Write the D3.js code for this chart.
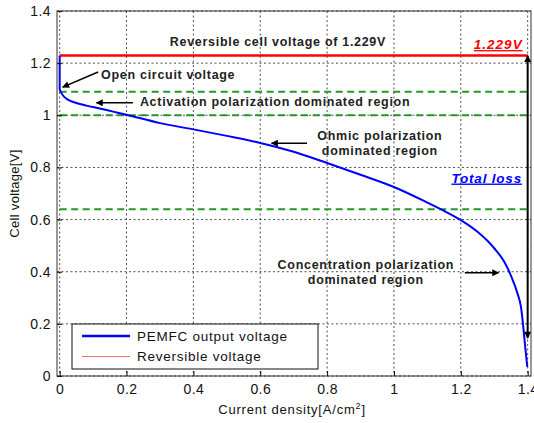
<!DOCTYPE html>
<html>
<head>
<meta charset="utf-8">
<script src="https://cdn.jsdelivr.net/npm/d3@7"></script>
<style>
  body { margin: 0; background: #fff; }
  text { font-family: "Liberation Sans", Arial, sans-serif; }
</style>
</head>
<body>
<div class="viz1"></div>
<script>
// polarization curve
var current = [0, 0, 0.005, 0.01, 0.02, 0.03, 0.05, 0.08, 0.12, 0.16, 0.2, 0.3, 0.4, 0.5, 0.6, 0.7, 0.8, 0.9, 1.0, 1.1, 1.15, 1.2, 1.25, 1.3, 1.33, 1.35, 1.37, 1.38, 1.386, 1.392, 1.396, 1.399];
var voltage = [1.229, 1.10, 1.086, 1.076, 1.064, 1.056, 1.047, 1.037, 1.026, 1.014, 1.002, 0.970, 0.946, 0.921, 0.894, 0.860, 0.817, 0.772, 0.725, 0.665, 0.633, 0.598, 0.553, 0.49, 0.438, 0.385, 0.315, 0.265, 0.2, 0.12, 0.07, 0.035];

var reversibleV = 1.229;
var regionBounds = [1.09, 1.0, 0.64];

var xTicks = [0, 0.2, 0.4, 0.6, 0.8, 1, 1.2, 1.4];
var yTicks = [0, 0.2, 0.4, 0.6, 0.8, 1, 1.2, 1.4];
var legendLabels = ["PEMFC output voltage", "Reversible voltage"];

var w = 534;
var h = 423;
var padL = 57, padR = 531, padT = 11, padB = 376;

var xScale = d3.scaleLinear()
            .domain([-0.008, 1.41])
            .range([padL, padR]);

var yScale = d3.scaleLinear()
            .domain([0, 1.4])
            .range([padB, padT]);

var svg = d3.select(".viz1")
        .append("svg")
        .attr("width", w)
        .attr("height", h);

var defs = svg.append("defs");
defs.append("marker")
    .attr("id", "head")
    .attr("viewBox", "0 0 10 10")
    .attr("refX", 9)
    .attr("refY", 5)
    .attr("markerWidth", 8)
    .attr("markerHeight", 7)
    .attr("markerUnits", "userSpaceOnUse")
    .attr("orient", "auto-start-reverse")
    .append("path")
    .attr("d", "M0,0 L10,5 L0,10 Z")
    .attr("fill", "#000");

//grid
svg.append("g")
    .selectAll("line")
    .data(xTicks)
    .enter()
    .append("line")
    .attr("x1", function(d) { return xScale(d); })
    .attr("x2", function(d) { return xScale(d); })
    .attr("y1", padT)
    .attr("y2", padB)
    .attr("stroke", "#222")
    .attr("stroke-width", 0.8)
    .attr("stroke-dasharray", "2,2.5");

svg.append("g")
    .selectAll("line")
    .data(yTicks)
    .enter()
    .append("line")
    .attr("x1", padL)
    .attr("x2", padR)
    .attr("y1", function(d) { return yScale(d); })
    .attr("y2", function(d) { return yScale(d); })
    .attr("stroke", "#222")
    .attr("stroke-width", 0.8)
    .attr("stroke-dasharray", "2,2.5");

// region boundaries
svg.append("g")
    .selectAll("line")
    .data(regionBounds)
    .enter()
    .append("line")
    .attr("x1", xScale(0))
    .attr("x2", xScale(1.4))
    .attr("y1", function(d) { return yScale(d); })
    .attr("y2", function(d) { return yScale(d); })
    .attr("stroke", "#229a22")
    .attr("stroke-width", 2)
    .attr("stroke-dasharray", "7,4.5");

// reversible voltage
svg.append("line")
    .attr("x1", xScale(0))
    .attr("x2", xScale(1.4))
    .attr("y1", yScale(reversibleV))
    .attr("y2", yScale(reversibleV))
    .attr("stroke", "#ff0000")
    .attr("stroke-width", 2.5);

var line = d3.line()
    .x(function(d, i) { return xScale(current[i]); })
    .y(function(d) { return yScale(d); })
    .curve(d3.curveMonotoneX);

svg.append("path")
    .datum(voltage)
    .attr("d", line)
    .attr("fill", "none")
    .attr("stroke", "#0000ff")
    .attr("stroke-width", 2);

//axes
var xaxis = d3.axisBottom(xScale)
            .tickValues(xTicks)
            .tickSize(-5)
            .tickPadding(8)
            .tickFormat(function(d) { return String(d); });

var yaxis = d3.axisLeft(yScale)
            .tickValues(yTicks)
            .tickSize(-5)
            .tickPadding(6)
            .tickFormat(function(d) { return String(d); });

svg.append("g")
     .attr("class", "x axis")
     .attr("transform", "translate(0," + padB + ")")
     .call(xaxis);

svg.append("g")
     .attr("class", "y axis")
     .attr("transform", "translate(" + padL + ",0)")
     .call(yaxis);

svg.selectAll(".axis path").remove();
svg.selectAll(".axis line").attr("stroke", "#000");
svg.selectAll(".axis text")
    .attr("fill", "#111")
    .style("font-size", "14px")
    .style("letter-spacing", "0.4px");

svg.append("rect")
    .attr("x", padL)
    .attr("y", padT)
    .attr("width", padR - padL)
    .attr("height", padB - padT)
    .attr("fill", "none")
    .attr("stroke", "#333")
    .attr("stroke-width", 1);

svg.append("text")
    .attr("x", 292)
    .attr("y", 414)
    .attr("text-anchor", "middle")
    .style("font-size", "13px")
    .style("letter-spacing", "0.8px")
    .attr("fill", "#111")
    .html("Current density[A/cm<tspan dy='-5' font-size='9'>2</tspan><tspan dy='5'>]</tspan>");

svg.append("text")
    .attr("transform", "translate(19," + ((padT + padB) / 2) + ") rotate(-90)")
    .attr("text-anchor", "middle")
    .style("font-size", "13px")
    .style("letter-spacing", "0.3px")
    .attr("fill", "#111")
    .text("Cell voltage[V]");

//annotations
function note(txt, x, y, anchor) {
    return svg.append("text")
        .attr("x", xScale(x))
        .attr("y", yScale(y))
        .attr("text-anchor", anchor || "start")
        .style("font-size", "12.5px")
        .style("font-weight", "bold")
        .style("letter-spacing", "0.7px")
        .attr("fill", "#222")
        .text(txt);
}

function arrow(x1, y1, x2, y2) {
    return svg.append("line")
        .attr("x1", xScale(x1))
        .attr("y1", yScale(y1))
        .attr("x2", xScale(x2))
        .attr("y2", yScale(y2))
        .attr("stroke", "#000")
        .attr("stroke-width", 1.6)
        .attr("marker-end", "url(#head)");
}

note("Reversible cell voltage of 1.229V", 0.653, 1.264, "middle");
note("Open circuit voltage", 0.124, 1.139);
arrow(0.115, 1.166, 0.009, 1.108);
note("Activation polarization dominated region", 0.24, 1.037);
arrow(0.219, 1.048, 0.11, 1.048);
note("Ohmic polarization", 0.958, 0.907, "middle");
note("dominated region", 0.958, 0.846, "middle");
arrow(0.74, 0.893, 0.634, 0.893);
note("Concentration polarization", 0.916, 0.412, "middle");
note("dominated region", 0.916, 0.351, "middle");
arrow(1.212, 0.396, 1.313, 0.396);

note("1.229V", 1.385, 1.254, "end")
    .attr("fill", "#ff0000")
    .style("font-style", "italic")
    .style("font-size", "13.5px")
    .style("letter-spacing", "1px")
    .style("text-decoration", "underline");

note("Total loss", 1.172, 0.742)
    .attr("fill", "#0000ff")
    .style("font-style", "italic")
    .style("font-size", "13.5px")
    .style("letter-spacing", "0.8px")
    .style("text-decoration", "underline");

arrow(1.4, 0.5, 1.4, reversibleV).attr("stroke-width", 2);
arrow(1.4, 0.5, 1.4, 0.146).attr("stroke-width", 2);

//legend
var legend = svg.append("g")
    .attr("transform", "translate(72,324)");

legend.append("rect")
    .attr("width", 246)
    .attr("height", 45)
    .attr("fill", "#fff")
    .attr("stroke", "#111")
    .attr("stroke-width", 1);

legend.selectAll("line")
    .data(legendLabels)
    .enter()
    .append("line")
    .attr("x1", 10)
    .attr("x2", 58)
    .attr("y1", function(d, i) { return 12 + i * 20.5; })
    .attr("y2", function(d, i) { return 12 + i * 20.5; })
    .attr("stroke", function(d, i) { return i == 0 ? "#0000ff" : "#ff6f6f"; })
    .attr("stroke-width", function(d, i) { return i == 0 ? 2.5 : 1.2; });

legend.selectAll("text")
    .data(legendLabels)
    .enter()
    .append("text")
    .attr("x", 65)
    .attr("y", function(d, i) { return 16.5 + i * 20.5; })
    .style("font-size", "13.5px")
    .style("letter-spacing", "0.75px")
    .attr("fill", "#111")
    .text(function(d) { return d; });
</script>
</body>
</html>
